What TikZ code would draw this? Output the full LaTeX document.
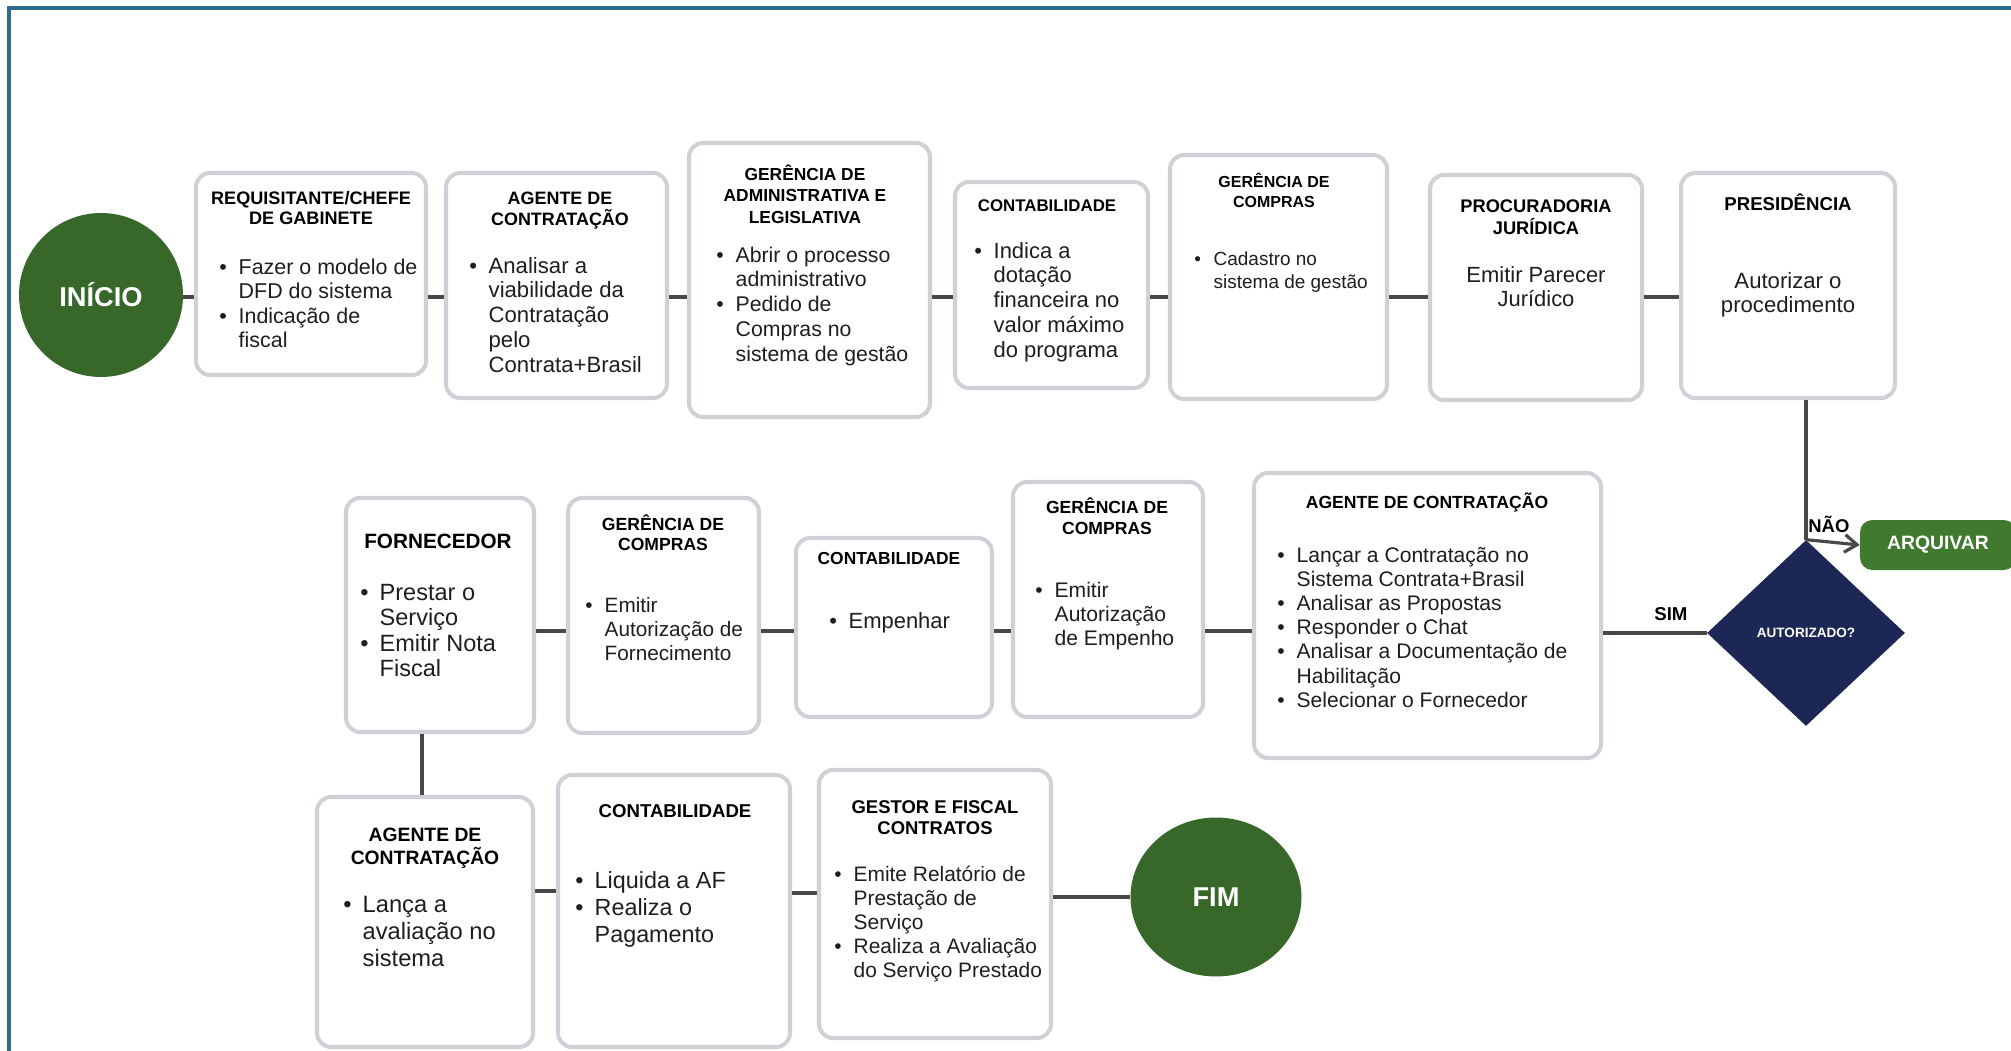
\documentclass[tikz,border=0pt]{standalone}
\usepackage{fontspec}
\setmainfont{Liberation Sans}
\usetikzlibrary{shapes.geometric,arrows.meta}
\definecolor{frameblue}{RGB}{46,108,140}
\definecolor{boxgray}{RGB}{206,210,214}
\definecolor{lineg}{RGB}{72,72,72}
\definecolor{dgreen}{RGB}{56,103,42}
\definecolor{agreen}{RGB}{63,122,47}
\definecolor{navyd}{RGB}{28,39,86}
\definecolor{txt}{RGB}{30,30,30}
\newcommand{\fsz}[2]{\fontsize{#1}{#2}\selectfont}
\newcommand{\bu}{\makebox[11pt][l]{\textbullet}}
\newcommand{\tl}[1]{\begin{tabular}[t]{@{}c@{}}#1\end{tabular}}
\newcommand{\bd}[1]{\begin{tabular}[t]{@{}l@{}l@{}}#1\end{tabular}}
\newcommand{\pbx}[5]{\node[pbox, minimum width={(#4-#2)*0.02cm}, minimum height={(#5-#3)*0.02cm}] (#1) at ({(#2+#4)/2},{(#3+#5)/2}) {};}
\begin{document}
\begin{tikzpicture}[x=0.02cm,y=-0.02cm,
  pbox/.style={draw=boxgray, line width=2.3pt, rounded corners=8pt, fill=white, inner sep=0pt},
  conn/.style={draw=lineg, line width=2.6pt},
  connthin/.style={draw=lineg, line width=1.8pt},
  ttl/.style={anchor=base, inner sep=0pt, text=black},
  body/.style={anchor=base west, inner sep=0pt, text=txt},
  ctext/.style={anchor=base, inner sep=0pt, text=txt}]
\useasboundingbox (0,0) rectangle (2011,1051);
\fill[white] (0,0) rectangle (2011,1051);
\draw[frameblue, line width=1.8pt] (9,1060) -- (9,8) -- (2020,8);

% ---------- row 1 ----------
\node[circle, fill=dgreen, minimum size=3.28cm, inner sep=0pt, text=white, font=\bfseries\fsz{15.5}{18}] (ini) at (101,295) {INÍCIO};

\pbx{B1}{196}{173}{426}{375}
\node[ttl, font=\bfseries\fsz{10.3}{11.4}] (B1t) at (311,204) {\tl{REQUISITANTE/CHEFE\\DE GABINETE}};
\node[body, font=\fsz{12.2}{14}] (B1b) at (219,274) {\bd{\bu & Fazer o modelo de\\ & DFD do sistema\\ \bu & Indicação de\\ & fiscal}};

\pbx{B2}{446}{173}{667}{398}
\node[ttl, font=\bfseries\fsz{10.2}{11.4}] (B2t) at (560,204) {\tl{AGENTE DE\\CONTRATAÇÃO}};
\node[body, font=\fsz{12.6}{14.2}] (B2b) at (469,273) {\bd{\bu & Analisar a\\ & viabilidade da\\ & Contratação\\ & pelo\\ & Contrata+Brasil}};

\pbx{B3}{689}{143}{930}{417}
\node[ttl, font=\bfseries\fsz{9.9}{12.4}] (B3t) at (805,180) {\tl{GERÊNCIA DE\\ADMINISTRATIVA E\\LEGISLATIVA}};
\node[body, font=\fsz{12.1}{14.1}] (B3b) at (716,262) {\bd{\bu & Abrir o processo\\ & administrativo\\ \bu & Pedido de\\ & Compras no\\ & sistema de gestão}};

\pbx{B4}{955}{182}{1148}{388}
\node[ttl, font=\bfseries\fsz{9.6}{11.6}] (B4t) at (1047,211) {CONTABILIDADE};
\node[body, font=\fsz{12.5}{14.2}] (B4b) at (974,258) {\bd{\bu & Indica a\\ & dotação\\ & financeira no\\ & valor máximo\\ & do programa}};

\pbx{B5}{1170}{155}{1387}{399}
\node[ttl, font=\bfseries\fsz{9.1}{11.4}] (B5t) at (1274,187) {\tl{GERÊNCIA DE\\COMPRAS}};
\node[body, font=\fsz{10.8}{13.1}] (B5b) at (1194,265) {\bd{\bu & Cadastro no\\ & sistema de gestão}};

\pbx{B6}{1430}{175}{1642}{400}
\node[ttl, font=\bfseries\fsz{10.4}{12.5}] (B6t) at (1536,212) {\tl{PROCURADORIA\\JURÍDICA}};
\node[ctext, font=\fsz{12.5}{13.7}] (B6b) at (1536,282) {\tl{Emitir Parecer\\Jurídico}};

\pbx{B7}{1681}{173}{1895}{398}
\node[ttl, font=\bfseries\fsz{10.6}{12}] (B7t) at (1788,210) {PRESIDÊNCIA};
\node[ctext, font=\fsz{12.6}{14.2}] (B7b) at (1788,288) {\tl{Autorizar o\\procedimento}};

% ---------- decision ----------
\node[diamond, fill=navyd, minimum width=3.96cm, minimum height=3.72cm, aspect=1.06, inner sep=0pt, text=white, font=\bfseries\fsz{7.7}{9}] (dec) at (1806,633) {AUTORIZADO?};
\node[rectangle, rounded corners=7pt, fill=agreen, minimum width=3.12cm, minimum height=1cm, inner sep=0pt, text=white, font=\bfseries\fsz{11}{13}] (arq) at (1938,545) {ARQUIVAR};
\node[anchor=base west, inner sep=0pt, font=\bfseries\fsz{10.5}{12}] (nao) at (1808,532) {NÃO};
\node[anchor=base west, inner sep=0pt, font=\bfseries\fsz{10.6}{12}] (sim) at (1654,620) {SIM};

% ---------- row 2 ----------
\pbx{A2}{1254}{473}{1601}{758}
\node[ttl, font=\bfseries\fsz{10}{12}] (A2t) at (1427,508) {AGENTE DE CONTRATAÇÃO};
\node[body, font=\fsz{12}{13.8}] (A2b) at (1277,562) {\bd{\bu & Lançar a Contratação no\\ & Sistema Contrata+Brasil\\ \bu & Analisar as Propostas\\ \bu & Responder o Chat\\ \bu & Analisar a Documentação de\\ & Habilitação\\ \bu & Selecionar o Fornecedor}};

\pbx{G2}{1013}{482}{1203}{717}
\node[ttl, font=\bfseries\fsz{10}{12}] (G2t) at (1107,513) {\tl{GERÊNCIA DE\\COMPRAS}};
\node[body, font=\fsz{12}{13.7}] (G2b) at (1035,597) {\bd{\bu & Emitir\\ & Autorização\\ & de Empenho}};

\pbx{C2}{796}{538}{992}{717}
\node[ttl, font=\bfseries\fsz{9.9}{12}] (C2t) at (889,564) {CONTABILIDADE};
\node[body, font=\fsz{12.5}{14}] (C2b) at (829,628) {\bd{\bu & Empenhar}};

\pbx{F2}{568}{498}{759}{733}
\node[ttl, font=\bfseries\fsz{10}{11.4}] (F2t) at (663,530) {\tl{GERÊNCIA DE\\COMPRAS}};
\node[body, font=\fsz{11.8}{13.7}] (F2b) at (585,612) {\bd{\bu & Emitir\\ & Autorização de\\ & Fornecimento}};

\pbx{FO}{346}{498}{534}{732}
\node[ttl, font=\bfseries\fsz{11.8}{13}] (FOt) at (438,548) {FORNECEDOR};
\node[body, font=\fsz{13.4}{14.6}] (FOb) at (360,600) {\bd{\bu & Prestar o\\ & Serviço\\ \bu & Emitir Nota\\ & Fiscal}};

% ---------- row 3 ----------
\pbx{A3}{317}{797}{533}{1047}
\node[ttl, font=\bfseries\fsz{11}{12}] (A3t) at (425,841) {\tl{AGENTE DE\\CONTRATAÇÃO}};
\node[body, font=\fsz{13.5}{15.6}] (A3b) at (343,912) {\bd{\bu & Lança a\\ & avaliação no\\ & sistema}};

\pbx{C3}{558}{775}{790}{1047}
\node[ttl, font=\bfseries\fsz{10.6}{12}] (C3t) at (675,817) {CONTABILIDADE};
\node[body, font=\fsz{13.3}{15.6}] (C3b) at (575,888) {\bd{\bu & Liquida a AF\\ \bu & Realiza o\\ & Pagamento}};

\pbx{GF}{819}{770}{1051}{1038}
\node[ttl, font=\bfseries\fsz{10.5}{12.5}] (GFt) at (935,813) {\tl{GESTOR E FISCAL\\CONTRATOS}};
\node[body, font=\fsz{11.9}{13.7}] (GFb) at (834,881) {\bd{\bu & Emite Relatório de\\ & Prestação de\\ & Serviço\\ \bu & Realiza a Avaliação\\ & do Serviço Prestado}};

\node[ellipse, fill=dgreen, minimum width=3.42cm, minimum height=3.18cm, inner sep=0pt, text=white, font=\bfseries\fsz{15.5}{18}] (fim) at (1216,897) {FIM};

% ---------- connectors ----------
\coordinate (r1) at (0,297);
\coordinate (r2) at (0,631);
\coordinate (r3a) at (0,891);
\coordinate (r3b) at (0,893);
\coordinate (v1) at (422,0);
\draw[conn] (ini.east |- r1) -- (B1.west |- r1);
\draw[conn] (B1.east |- r1) -- (B2.west |- r1);
\draw[conn] (B2.east |- r1) -- (B3.west |- r1);
\draw[conn] (B3.east |- r1) -- (B4.west |- r1);
\draw[conn] (B4.east |- r1) -- (B5.west |- r1);
\draw[conn] (B5.east |- r1) -- (B6.west |- r1);
\draw[conn] (B6.east |- r1) -- (B7.west |- r1);
\draw[connthin] (B7.south -| dec.north) -- (dec.north);
\draw[connthin, -{Straight Barb[length=7pt, width=10pt, line width=1.8pt]}] (dec.north) -- (arq.west);
\draw[conn, line width=2.2pt] (dec.west) -- (A2.east |- dec.west);
\draw[conn] (A2.west |- r2) -- (G2.east |- r2);
\draw[conn] (G2.west |- r2) -- (C2.east |- r2);
\draw[conn] (C2.west |- r2) -- (F2.east |- r2);
\draw[conn] (F2.west |- r2) -- (FO.east |- r2);
\draw[connthin] (FO.south -| v1) -- (A3.north -| v1);
\draw[conn] (A3.east |- r3a) -- (C3.west |- r3a);
\draw[conn] (C3.east |- r3b) -- (GF.west |- r3b);
\draw[conn] (GF.east |- fim.west) -- (fim.west);
\end{tikzpicture}
\end{document}
